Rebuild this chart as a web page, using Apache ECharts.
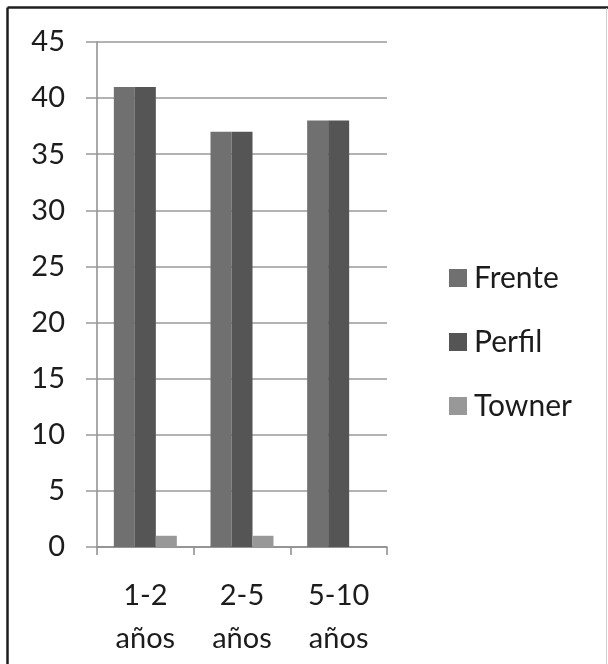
<!DOCTYPE html>
<html>
<head>
<meta charset="utf-8">
<script src="https://cdn.jsdelivr.net/npm/echarts@6/dist/echarts.min.js"></script>
<style>
  html, body { margin: 0; padding: 0; background: #fff; }
  #chart { width: 608px; height: 664px; }
</style>
</head>
<body>
<div id="chart"></div>
<script>
// Age groups on the category axis
const categories = ['1-2\naños', '2-5\naños', '5-10\naños'];
// Counts per view type
const frente = [41, 37, 38];
const perfil = [41, 37, 38];
const towner = [1, 1, 0];
// Value axis range
const yMin = 0;
const yMax = 45;
const yStep = 5;

const FONT = 'Lato, "Open Sans", sans-serif';
const TEXT = '#1c1c1c';

const chart = echarts.init(document.getElementById('chart'), null, { renderer: 'canvas' });

chart.setOption({
  animation: false,
  backgroundColor: '#ffffff',
  textStyle: { fontFamily: FONT },
  grid: {
    left: 97, right: 221, top: 42, bottom: 117,
    outerBoundsMode: 'none'
  },
  legend: {
    orient: 'vertical',
    left: 444,
    top: 258,
    itemWidth: 18,
    itemHeight: 18,
    itemGap: 34,
    icon: 'rect',
    textStyle: { fontFamily: FONT, fontSize: 30, color: TEXT, lineHeight: 30, padding: [0, 0, 0, 2] },
    data: ['Frente', 'Perfil', 'Towner']
  },
  xAxis: {
    type: 'category',
    data: categories,
    axisLine: { show: true, lineStyle: { color: '#8c8c8c', width: 1.5 } },
    axisTick: { show: true, length: 8, lineStyle: { color: '#8c8c8c', width: 1.5 } },
    axisLabel: {
      fontFamily: FONT, fontSize: 29, color: TEXT, lineHeight: 43,
      margin: 27, interval: 0
    },
    splitLine: { show: false }
  },
  yAxis: {
    type: 'value',
    min: yMin, max: yMax, interval: yStep,
    axisLine: { show: true, lineStyle: { color: '#8c8c8c', width: 1.5 } },
    axisTick: { show: true, length: 11, lineStyle: { color: '#9a9a9a', width: 1.5 } },
    axisLabel: { fontFamily: FONT, fontSize: 29, color: TEXT, margin: 32 },
    splitLine: { show: true, lineStyle: { color: '#9a9a9a', width: 1.5 } }
  },
  series: [
    { name: 'Frente', type: 'bar', data: frente, barWidth: 21, barGap: '0%',
      itemStyle: { color: '#707070' } },
    { name: 'Perfil', type: 'bar', data: perfil, barWidth: 21, barGap: '0%',
      itemStyle: { color: '#555555' } },
    { name: 'Towner', type: 'bar', data: towner, barWidth: 21, barGap: '0%',
      itemStyle: { color: '#989898' } }
  ],
  graphic: [
    // frame around the figure
    { type: 'line', shape: { x1: 7.5, y1: 7.5, x2: 7.5, y2: 664 },
      style: { stroke: '#1e1e1e', lineWidth: 2.5 } },
    { type: 'line', shape: { x1: 7.5, y1: 7.5, x2: 608, y2: 7.5 },
      style: { stroke: '#1e1e1e', lineWidth: 2.5 } },
    { type: 'line', shape: { x1: 606.5, y1: 8, x2: 606.5, y2: 664 },
      style: { stroke: '#d0d0d0', lineWidth: 1 } }
  ]
});
</script>
</body>
</html>
